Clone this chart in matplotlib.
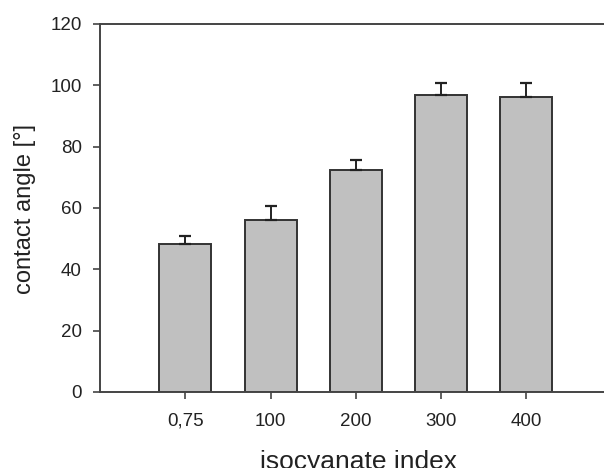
import matplotlib
matplotlib.use("Agg")
import matplotlib.pyplot as plt
import numpy as np

plt.rcParams['font.family'] = ['Liberation Sans', 'DejaVu Sans']

categories = ['0,75', '100', '200', '300', '400']
angle = [48.4, 56.2, 72.4, 97.0, 96.1]
err_up = [2.6, 4.5, 3.3, 3.6, 4.5]

x = np.arange(len(categories))

fig = plt.figure(figsize=(6.04, 4.68), dpi=100)
ax = fig.add_axes([100 / 604, 76 / 468, 504 / 604, 368 / 468])

ax.bar(x, angle, width=0.61, color='#c0c0c0', edgecolor='#333333', linewidth=1.4, zorder=2)
ax.errorbar(x, angle, yerr=[np.zeros(len(x)), err_up], fmt='none',
            ecolor='#222222', elinewidth=1.4, capsize=4, capthick=1.6, zorder=3)

ax.set_xlim(-1.0, 4.91)
ax.set_ylim(0, 120)
ax.set_yticks(np.arange(0, 121, 20))
ax.set_xticks(x)
ax.set_xticklabels(categories)

for side in ['left', 'bottom', 'top']:
    ax.spines[side].set_color('#444444')
    ax.spines[side].set_linewidth(1.4)
ax.spines['right'].set_visible(False)

ax.tick_params(axis='both', direction='out', length=5, width=1.2, color='#444444',
               labelsize=13.5, labelcolor='#222222')
ax.tick_params(axis='y', pad=8)
ax.tick_params(axis='x', pad=10)

ax.set_xlabel('isocyanate index', fontsize=19, color='#222222')
ax.xaxis.set_label_coords((358 - 100) / 504, -0.158)
ax.set_ylabel('contact angle [°]', fontsize=17, color='#222222')
ax.yaxis.set_label_coords(-0.126, (392 - 208.5) / 368)

fig.savefig('out.png', dpi=100)
